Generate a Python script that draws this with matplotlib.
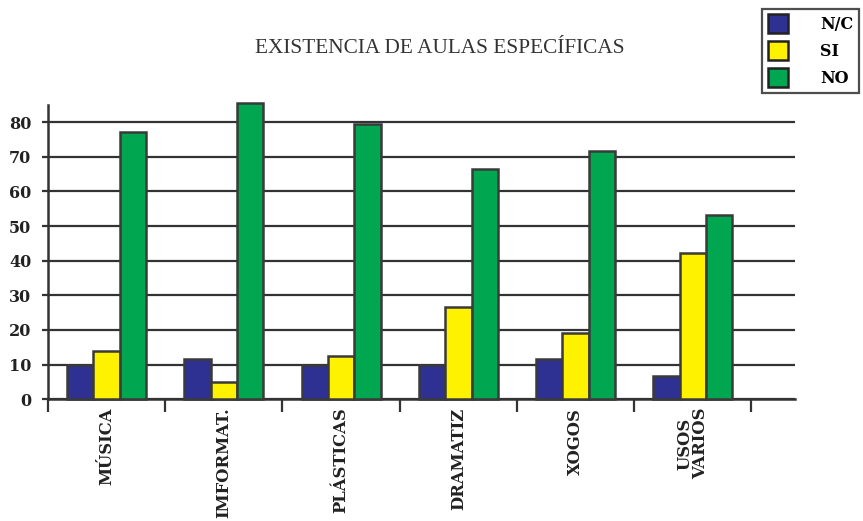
import numpy as np
import matplotlib
matplotlib.use('Agg')
import matplotlib.pyplot as plt
from matplotlib.patches import Patch

# Datos (porcentaxes) por tipo de aula
categorias = ['MÚSICA', 'IMFORMAT.', 'PLÁSTICAS', 'DRAMATIZ', 'XOGOS', 'USOS\nVARIOS']
nc = [10, 11.6, 10, 10, 11.6, 6.6]
si = [14, 5, 12.4, 26.6, 19, 42.2]
no = [77, 85.4, 79.3, 66.4, 71.7, 53.1]
series = ['N/C', 'SI', 'NO']
yticks = [0, 10, 20, 30, 40, 50, 60, 70, 80]

cores = ['#2E3192', '#FFF200', '#00A650']
borde = '#3a3a3a'

fig = plt.figure(figsize=(8.63, 5.21), dpi=100)
ax = fig.add_axes([0.0556, 0.2336, 0.8654, 0.5654])

x = np.arange(len(categorias))
w = 0.225
for k, (vals, cor) in enumerate(zip([nc, si, no], cores)):
    ax.bar(x + (k - 1) * w, vals, width=w, color=cor, edgecolor=borde,
           linewidth=1.8, zorder=3, clip_on=False)

ax.set_xlim(-0.5, 5.87)
ax.set_ylim(0, 85)

# Grella horizontal
ax.set_yticks(yticks)
ax.yaxis.grid(True, color='#333333', linewidth=1.6, zorder=0)
ax.set_axisbelow(True)
ax.tick_params(axis='y', direction='out', length=4, width=1.6, color='#333333', pad=8)
for lab in ax.get_yticklabels():
    lab.set_fontfamily('DejaVu Serif')
    lab.set_fontweight('bold')
    lab.set_fontsize(11.5)
    lab.set_color('#222222')

# Marcas entre categorías e etiquetas verticais
ax.set_xticks(x)
ax.set_xticklabels(categorias, rotation=90, va='top', ha='center',
                   fontfamily='DejaVu Serif', fontweight='bold', fontsize=11.8,
                   color='#222222', linespacing=0.85)
ax.tick_params(axis='x', which='major', length=0, pad=6)
ax.set_xticks(np.arange(-0.5, 6, 1.0), minor=True)
ax.tick_params(axis='x', which='minor', length=9, width=1.6, color='#333333', direction='out')

for s in ['top', 'right']:
    ax.spines[s].set_visible(False)
for s in ['left', 'bottom']:
    ax.spines[s].set_color('#333333')
    ax.spines[s].set_linewidth(1.8)

fig.text(0.51, 0.907, 'EXISTENCIA DE AULAS ESPECÍFICAS', ha='center', va='center',
         fontfamily='Liberation Serif', fontsize=15.3, color='#333333')

handles = [Patch(facecolor=c, edgecolor='#222222', linewidth=1.8) for c in cores]
leg = fig.legend(handles, series, loc='upper left', bbox_to_anchor=(0.883, 0.983),
                 frameon=True, fancybox=False, edgecolor='#222222',
                 prop={'family': 'DejaVu Serif', 'weight': 'bold', 'size': 11.5},
                 handlelength=1.3, handleheight=1.45, handletextpad=2.0,
                 labelspacing=0.5, borderpad=0.35, borderaxespad=0)
leg.get_frame().set_linewidth(1.6)

fig.savefig('out.png', dpi=100)
